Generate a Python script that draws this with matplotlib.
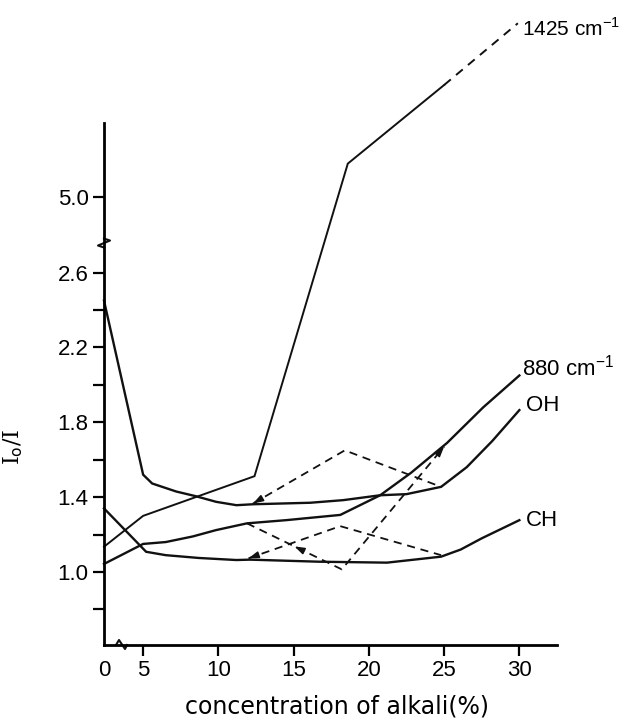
import numpy as np
import matplotlib
matplotlib.use('Agg')
import matplotlib.pyplot as plt
from matplotlib.lines import Line2D
from matplotlib.transforms import IdentityTransform

# ---------------- data ----------------
x_1425 = [0, 5, 12.4, 18.6, 25.0]
y_1425 = [1.135, 1.30, 1.512, 5.18, 5.60]
x_1425_ext = [25.0, 29.9]
y_1425_ext = [5.60, 5.93]

x_880 = [0, 5, 6.5, 8.3, 9.85, 11.9, 14.5, 18.1, 20.75, 22.8, 25.2, 27.6, 30.0]
y_880 = [1.043, 1.15, 1.16, 1.19, 1.224, 1.26, 1.277, 1.305, 1.41, 1.53, 1.69, 1.88, 2.05]

x_oh = [0, 5, 5.6, 7.2, 8.5, 9.85, 11.2, 12.3, 16.1, 18.3, 20.75, 22.5, 24.8, 26.5, 28.2, 30.0]
y_oh = [2.45, 1.52, 1.473, 1.43, 1.405, 1.375, 1.357, 1.362, 1.37, 1.384, 1.41, 1.416, 1.455, 1.56, 1.70, 1.865]

x_ch = [0, 5.2, 6.5, 8.7, 11.2, 12.1, 16.7, 21.2, 24.8, 26.1, 27.5, 30.0]
y_ch = [1.34, 1.108, 1.09, 1.075, 1.064, 1.066, 1.055, 1.05, 1.082, 1.12, 1.18, 1.277]

d1_x = [12.3, 18.4, 24.8]
d1_y = [1.366, 1.65, 1.455]
d2_x = [11.9, 18.2, 25.0]
d2_y = [1.26, 1.014, 1.67]
d3_x = [12.0, 18.1, 24.8]
d3_y = [1.073, 1.245, 1.09]

xticks = [5, 10, 15, 20, 25, 30]
yticks = [0.8, 1.0, 1.2, 1.4, 1.6, 1.8, 2.0, 2.2, 2.4, 2.6, 5.0]
ytick_labels = ['', '1.0', '', '1.4', '', '1.8', '', '2.2', '', '2.6', '5.0']

# ---------------- broken scales ----------------
def xf(x):
    x = np.asarray(x, dtype=float)
    return np.where(x < 5, 5 - (5 - x) * 0.52, x)

def xi(d):
    d = np.asarray(d, dtype=float)
    return np.where(d < 5, 5 - (5 - d) / 0.52, d)

YB1, YB2, SG = 2.77, 4.77, 0.001

def yf(y):
    y = np.asarray(y, dtype=float)
    return np.where(y <= YB1, y,
                    np.where(y >= YB2, y - (YB2 - YB1) + (YB2 - YB1) * SG,
                             YB1 + (y - YB1) * SG))

def yi(d):
    d = np.asarray(d, dtype=float)
    top = YB1 + (YB2 - YB1) * SG
    return np.where(d <= YB1, d,
                    np.where(d >= top, d + (YB2 - YB1) - (YB2 - YB1) * SG,
                             YB1 + (d - YB1) / SG))

plt.rcParams['font.family'] = ['Liberation Sans', 'DejaVu Sans']

fig = plt.figure(figsize=(6.24, 7.24), dpi=100)
ax = fig.add_axes([104 / 624, 1 - 645 / 724, 453 / 624, 522 / 724])
ax.set_xscale('function', functions=(xf, xi))
ax.set_yscale('function', functions=(yf, yi))
ax.set_xlim(0, 32.5)
ax.set_ylim(0.61, 5.397)

for s in ['top', 'right']:
    ax.spines[s].set_visible(False)
for s in ['left', 'bottom']:
    ax.spines[s].set_linewidth(2.0)

ax.set_xticks(xticks, [str(t) for t in xticks])
ax.set_xticks([0], ['0'], minor=True)
ax.set_yticks(yticks, ytick_labels)
ax.yaxis.set_minor_locator(matplotlib.ticker.NullLocator())
ax.tick_params(which='major', length=8, width=1.6, labelsize=16, pad=3, direction='out')
ax.tick_params(axis='x', which='minor', length=0, labelsize=16, pad=11)

lc = '#111111'
kw = dict(color=lc, lw=1.7, clip_on=False, solid_joinstyle='miter')
ax.plot(x_1425, y_1425, **{**kw, 'lw': 1.4})
ax.plot(x_1425_ext, y_1425_ext, color=lc, lw=1.4, ls=(0, (4.5, 3.5)), clip_on=False)
ax.plot(x_880, y_880, **kw)
ax.plot(x_oh, y_oh, **kw)
ax.plot(x_ch, y_ch, **kw)

dkw = dict(color=lc, lw=1.3, ls=(0, (4.5, 3.2)), clip_on=False)
ax.plot(d1_x, d1_y, **dkw)
ax.plot(d2_x, d2_y, **dkw)
ax.plot(d3_x, d3_y, **dkw)

# arrowheads on dashed lines
def head(tip, toward):
    p0 = ax.transData.transform(tip)
    p1 = ax.transData.transform(toward)
    u = (p1 - p0) / np.hypot(*(p1 - p0))
    ax.annotate('', xy=tip, xytext=(u[0] * 7, u[1] * 7), textcoords='offset points',
                arrowprops=dict(arrowstyle='-|>,head_length=0.6,head_width=0.2',
                                lw=1.1, color=lc, shrinkA=0, shrinkB=0))

head((d1_x[0], d1_y[0]), (d1_x[1], d1_y[1]))
head((d3_x[0], d3_y[0]), (d3_x[1], d3_y[1]))
head((d2_x[2], d2_y[2]), (d2_x[1], d2_y[1]))
mid = ((d2_x[0] + d2_x[1]) / 2, (d2_y[0] + d2_y[1]) / 2)
head(mid, (d2_x[1], d2_y[1]))

# curve labels
def lab(text, x, y, dx, dy, size=16):
    ax.annotate(text, xy=(x, y), xytext=(dx, dy), textcoords='offset points',
                fontsize=size, va='center', ha='left', annotation_clip=False)

lab('1425 cm$^{\\mathregular{-1}}$', x_1425_ext[-1], y_1425_ext[-1], 3, -4, 15)
lab('880 cm$^{\\mathregular{-1}}$', x_880[-1], y_880[-1], 2, 6, 16)
lab('OH', x_oh[-1], y_oh[-1], 5, 3, 16)
lab('CH', x_ch[-1], y_ch[-1], 5, 0, 16)

# axis labels
ax.set_xlabel('concentration of alkali(%)', fontsize=17, family='DejaVu Sans')
ax.xaxis.set_label_coords(0.514, -0.094)
ax.set_ylabel('I$_{\\mathrm{o}}$/I', fontsize=16, family='DejaVu Serif')
ax.yaxis.set_label_coords(-0.175, 0.38)

# axis break marks
fig.canvas.draw()
by = ax.transData.transform((0, 2.755))
ax.add_line(Line2D(by[0] + np.array([0, 6, -6, 0]), by[1] + np.array([5, 3, -2, -4]),
                   transform=IdentityTransform(), color=lc, lw=1.5, clip_on=False))
bx = ax.transData.transform((2.3, 0.61))
ax.add_line(Line2D(bx[0] + np.array([-6, -3, 3, 5]), bx[1] + np.array([0, 5, -4, 0]),
                   transform=IdentityTransform(), color=lc, lw=1.5, clip_on=False))

fig.savefig('out.png', dpi=100)
